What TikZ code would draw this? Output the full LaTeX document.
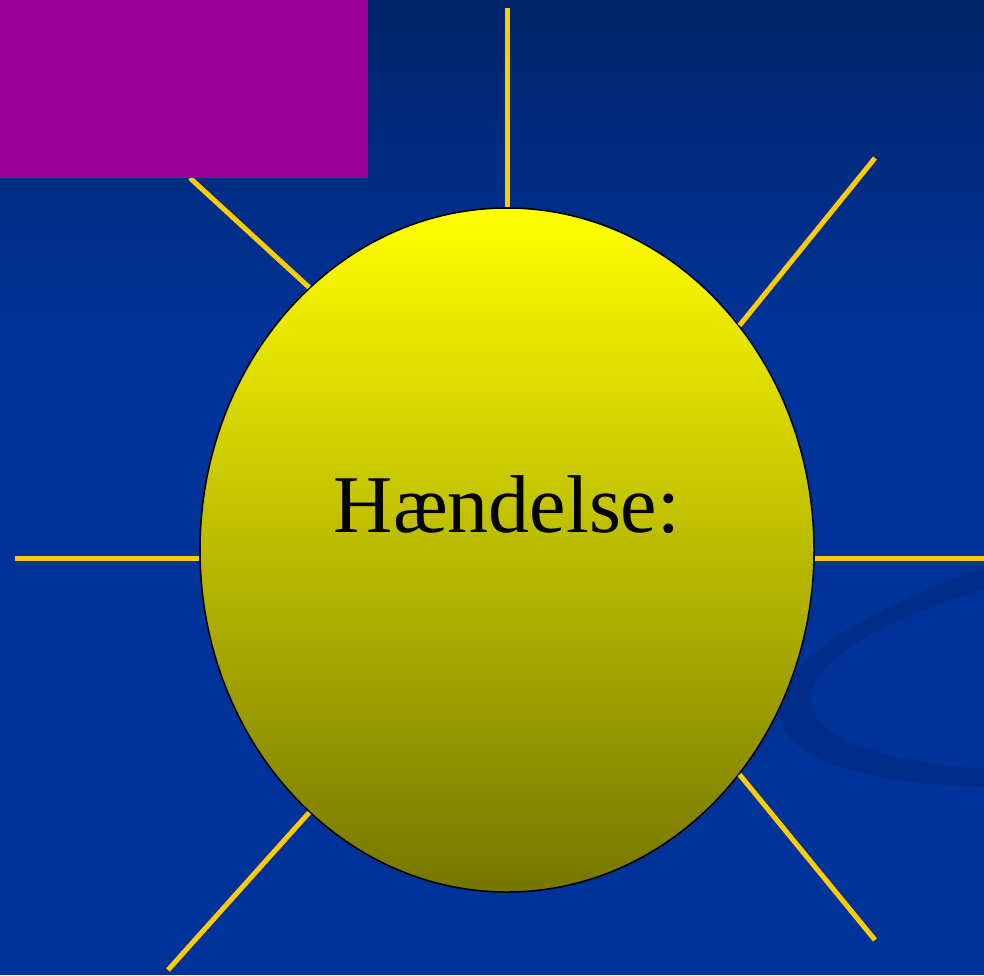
\documentclass[tikz,border=0pt]{standalone}
\usepackage{fontspec}
\setmainfont{Liberation Serif}
\usetikzlibrary{shapes.geometric,positioning}
\definecolor{slideblue}{RGB}{0,51,153}
\definecolor{slidetop}{RGB}{0,36,104}
\definecolor{swooshblue}{RGB}{0,45,138}
\definecolor{raygold}{RGB}{255,204,0}
\definecolor{sunolive}{RGB}{118,118,0}
\definecolor{boxmagenta}{RGB}{153,0,153}

\begin{document}
\begin{tikzpicture}[
  x=1pt, y=-1pt,
  sun/.style={ellipse, draw=black, line width=1.5pt, minimum width=614pt, minimum height=684pt,
    inner sep=0pt, top color=yellow, bottom color=sunolive},
  ray/.style={raygold, line width=5pt},
  lbl/.style={font=\fontsize{82}{96}\selectfont, text=black, inner sep=0pt}
]
  \useasboundingbox (0,0) rectangle (984,975);

  % background
  \fill[slideblue] (0,0) rectangle (984,975);
  \shade[top color=slidetop, bottom color=slideblue] (0,0) rectangle (984,330);

  % swoosh
  \begin{scope}
    \clip (0,0) rectangle (984,975);
    \fill[swooshblue, even odd rule]
      [shift={(1193,644)}, rotate=10] (0,0) ellipse [x radius=420, y radius=125]
      [shift={(13,12)}, rotate=-3] (0,0) ellipse [x radius=400, y radius=108];
  \end{scope}

  % sun
  \node[sun] (sun) at (507,550) {};
  \node[lbl, anchor=base] (word) at ([yshift=18pt]sun.center) {Hændelse:};

  % ray ends
  \coordinate (rN)  at (507,8);
  \coordinate (rNE) at (875,158);
  \coordinate (rE)  at (984,558);
  \coordinate (rSE) at (875,940);
  \coordinate (rSW) at (168,970);
  \coordinate (rW)  at (15,558);
  \coordinate (rNW) at (190,178);

  \foreach \a/\r in {90/rN, 44.2/rNE, -44.2/rSE, -127.6/rSW, 127.9/rNW} {
    \draw[ray] (sun.\a) -- (\r);
  }
  \draw[ray] (sun.east |- rE) -- (rE);
  \draw[ray] (sun.west |- rW) -- (rW);

  % title box
  \fill[boxmagenta] (0,0) rectangle (368,178);
\end{tikzpicture}
\end{document}
